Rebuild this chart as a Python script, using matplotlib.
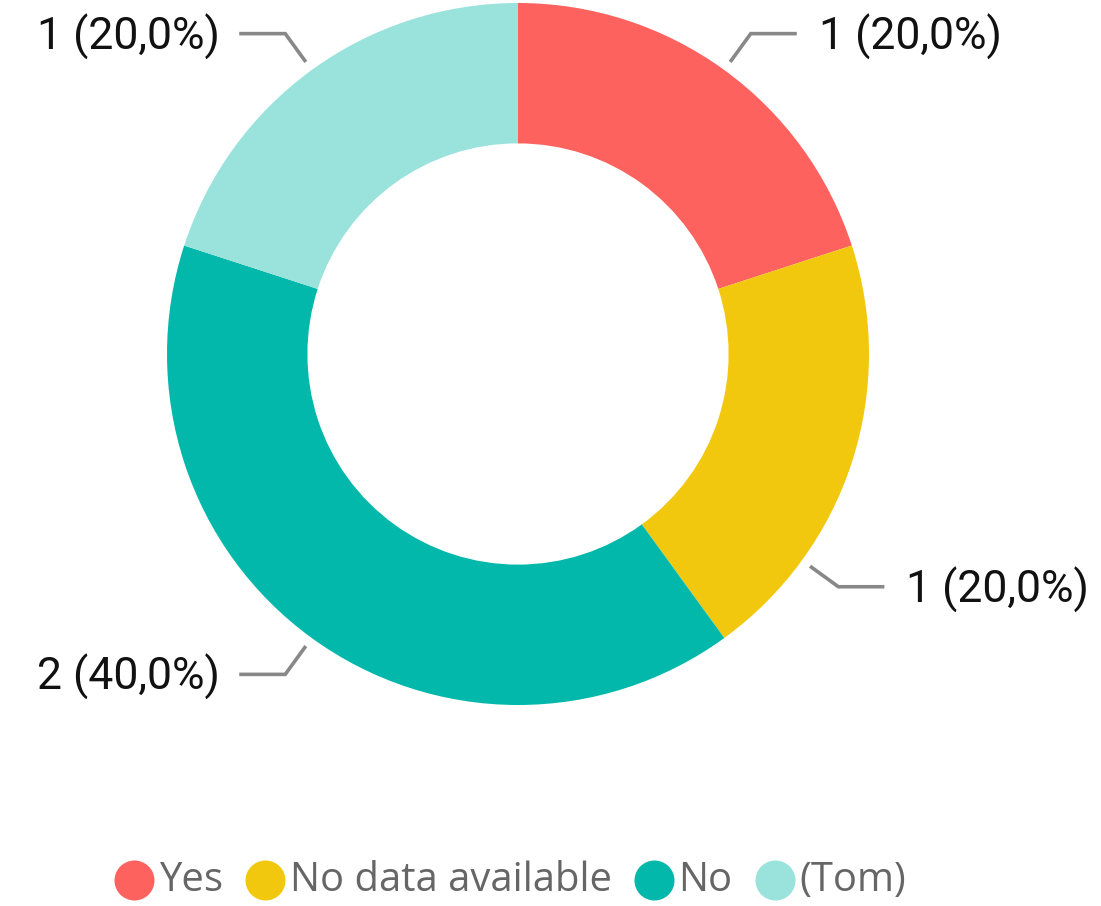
import numpy as np
import matplotlib
matplotlib.use("Agg")
import matplotlib.pyplot as plt

# Data
categories = ["Yes", "No data available", "No", "(Tom)"]
counts = [1, 1, 2, 1]
colors = ["#FD625E", "#F2C80F", "#01B8AA", "#99E3DC"]

W, H = 1101, 906
fig = plt.figure(figsize=(W / 100, H / 100), dpi=100)
ax = fig.add_axes([0, 0, 1, 1])

cx, cy = 518, H - 354
R = 351
ring = 0.40 * R

wedges, _ = ax.pie(counts, colors=colors, startangle=90, counterclock=False,
                   radius=R, center=(cx, cy), frame=True,
                   wedgeprops=dict(width=ring, linewidth=0))
ax.set_xlim(0, W)
ax.set_ylim(0, H)
ax.set_aspect("auto")
ax.axis("off")

total = sum(counts)
labels = [f"{v} ({v / total * 100:.1f}%)".replace(".", ",") for v in counts]

# leader lines: radial segment then horizontal run, label beside it
angle_shift = {1: -18}
lead_col = "#888888"
for i, w in enumerate(wedges):
    mid = (w.theta1 + w.theta2) / 2 + angle_shift.get(i, 0)
    a = np.deg2rad(mid)
    r0, r1 = R + 10, R + 45
    x0, y0 = cx + r0 * np.cos(a), cy + r0 * np.sin(a)
    x1, y1 = cx + r1 * np.cos(a), cy + r1 * np.sin(a)
    side = 1 if np.cos(a) >= 0 else -1
    x2 = x1 + side * 46
    ax.plot([x0, x1, x2], [y0, y1, y1], color=lead_col, lw=2.6,
            solid_capstyle="butt", solid_joinstyle="miter")
    pad = 22 if side > 0 else 19
    ax.text(x2 + side * pad, y1 - 3, labels[i], fontsize=32, family="Roboto",
            color="#111111", ha="left" if side > 0 else "right", va="center")

# legend row
fig.canvas.draw()
renderer = fig.canvas.get_renderer()
ly = H - 880
msize = 40
legend_font = dict(fontsize=28.8, family="Open Sans", color="#666666")
items = []
for name in categories:
    t = ax.text(0, ly, name, va="center", ha="left", **legend_font)
    bb = t.get_window_extent(renderer)
    items.append((t, bb.width))
gap_marker = 5
gap_item = 22
widths = [msize + gap_marker + wdt for _, wdt in items]
total_w = sum(widths) + gap_item * (len(items) - 1)
x = 510 - total_w / 2
for (t, wdt), col in zip(items, colors):
    ax.plot([x + msize / 2], [ly], marker="o", markersize=msize * 0.72,
            color=col, markeredgewidth=0)
    t.set_position((x + msize + gap_marker, ly - 1))
    x += msize + gap_marker + wdt + gap_item

fig.savefig("out.png", dpi=100, facecolor="white")
